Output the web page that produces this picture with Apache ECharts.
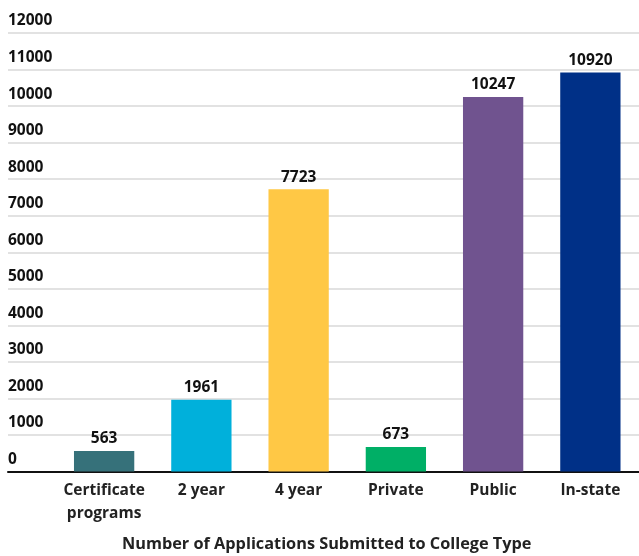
<!DOCTYPE html>
<html>
<head>
<meta charset="utf-8">
<script src="https://cdn.jsdelivr.net/npm/echarts@6/dist/echarts.min.js"></script>
<style>
html,body{margin:0;padding:0;background:#fff;}
#chart{width:639px;height:556px;}
</style>
</head>
<body>
<div id="chart"></div>
<script>
const categories = ['Certificate\nprograms', '2 year', '4 year', 'Private', 'Public', 'In-state'];
const values = [563, 1961, 7723, 673, 10247, 10920];
const colors = ['#36717A', '#00B0DB', '#FFC845', '#00AF66', '#70538F', '#003087'];
const yTicks = { min: 0, max: 12000, interval: 1000 };
const axisTitle = 'Number of Applications Submitted to College Type';

const txtFont = "'Open Sans', sans-serif";

const chart = echarts.init(document.getElementById('chart'), null, { renderer: 'canvas' });
chart.setOption({
  animation: false,
  backgroundColor: '#fff',
  title: {
    text: axisTitle,
    left: 122,
    top: 536,
    padding: 0,
    textStyle: { fontFamily: txtFont, fontWeight: 'bold', fontSize: 16.3, color: '#222' }
  },
  grid: [
    { left: 8, right: 0, top: 33, bottom: 84.5 },
    { left: 55.5, right: 0, top: 33, bottom: 84.5 }
  ],
  xAxis: [
    {
      gridIndex: 0, type: 'value', min: 0, max: 1,
      axisLine: { show: true, onZero: false, lineStyle: { color: '#111', width: 2 } },
      axisTick: { show: false }, axisLabel: { show: false }, splitLine: { show: false }
    },
    {
      gridIndex: 1, type: 'category', data: categories,
      axisLine: { show: false }, axisTick: { show: false },
      axisLabel: {
        interval: 0, margin: 8, fontFamily: txtFont, fontWeight: 'bold',
        fontSize: 15.5, color: '#222', lineHeight: 23
      }
    }
  ],
  yAxis: [
    {
      gridIndex: 0, type: 'value', min: yTicks.min, max: yTicks.max, interval: yTicks.interval,
      axisLine: { show: false }, axisTick: { show: false },
      splitLine: { lineStyle: { color: '#d9d9d9', width: 1.5 } },
      axisLabel: {
        inside: true, margin: 0, verticalAlign: 'bottom', padding: [0, 0, 4, 0],
        formatter: v => String(v),
        fontFamily: txtFont, fontWeight: 'bold', fontSize: 15.5, color: '#111'
      }
    },
    {
      gridIndex: 1, type: 'value', min: yTicks.min, max: yTicks.max, interval: yTicks.interval,
      show: false, splitLine: { show: false }
    }
  ],
  series: [{
    type: 'bar',
    xAxisIndex: 1, yAxisIndex: 1,
    data: values.map((v, i) => ({ value: v, itemStyle: { color: colors[i] } })),
    barWidth: '62%',
    z: 3,
    label: {
      show: true, position: 'top', distance: 4,
      formatter: p => String(p.value),
      fontFamily: txtFont, fontWeight: 'bold', fontSize: 15.5, color: '#111'
    }
  }]
});
</script>
</body>
</html>
